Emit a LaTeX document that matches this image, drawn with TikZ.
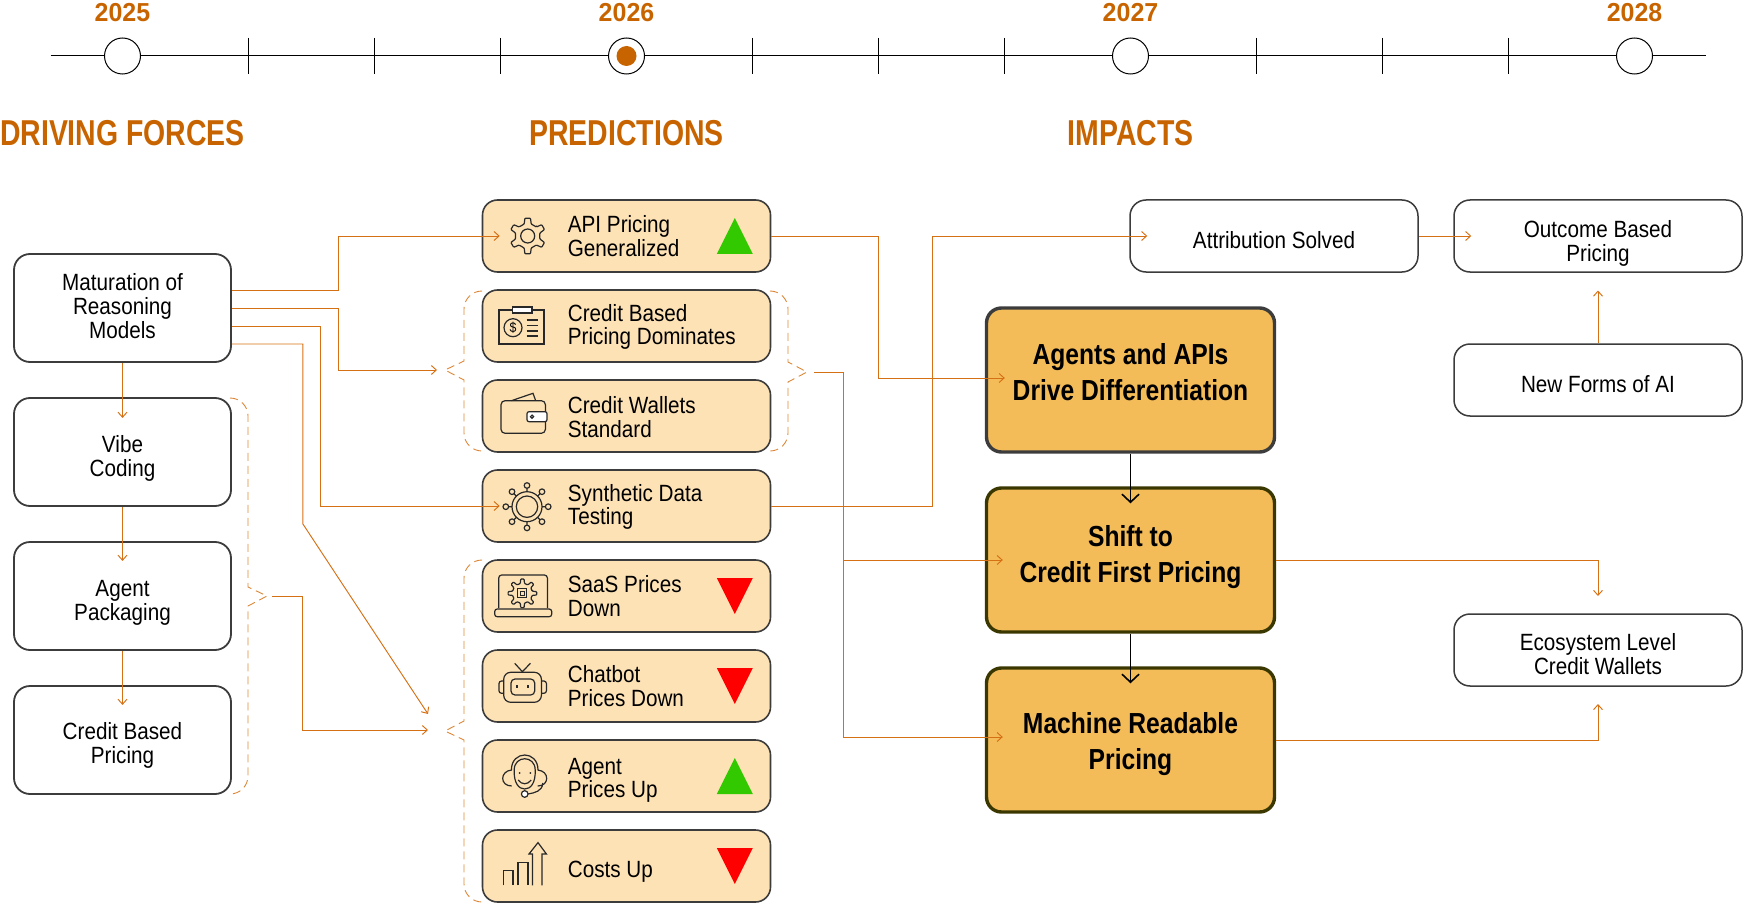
\documentclass[tikz,border=0pt]{standalone}
\usepackage{fontspec}
\setmainfont[FakeStretch=0.88]{Liberation Sans}
\newfontfamily\headfont[FakeStretch=0.79]{Liberation Sans}
\newfontfamily\yearfont[FakeStretch=0.96]{Liberation Sans}
\newfontfamily\impactfont[FakeStretch=0.85]{Liberation Sans}
\usetikzlibrary{arrows.meta}
\definecolor{ThemeOrange}{RGB}{200, 100, 0}
\definecolor{FlowOrange}{RGB}{214, 112, 20}
\definecolor{BraceOrange}{RGB}{220, 135, 55}
\definecolor{PredFill}{RGB}{253, 226, 182}
\definecolor{ImpactFill}{RGB}{243, 188, 89}
\definecolor{BoxEdge}{RGB}{60, 60, 60}
\definecolor{OliveEdge}{RGB}{58, 56, 0}
\definecolor{IconInk}{RGB}{40, 40, 40}
\definecolor{UpGreen}{RGB}{51, 201, 0}
\definecolor{DownRed}{RGB}{255, 0, 0}
\tikzset{
  forcebox/.style={draw=BoxEdge, line width=1.8pt, rounded corners=16pt, fill=white, minimum width=217pt, minimum height=108pt, inner sep=0pt},
  resultbox/.style={draw=BoxEdge, line width=1.5pt, rounded corners=16pt, fill=white, minimum height=72pt, inner sep=0pt},
  predbox/.style={draw=BoxEdge, line width=1.6pt, rounded corners=15pt, fill=PredFill, minimum width=288pt, minimum height=72pt, inner sep=0pt},
  impactbox/.style={draw=BoxEdge, line width=3.4pt, rounded corners=15pt, fill=ImpactFill, minimum width=288pt, minimum height=144pt, inner sep=0pt},
  boxtext/.style={align=center, font=\fontsize{23.5}{24}\selectfont, inner sep=0pt},
  predtext/.style={align=left, anchor=west, font=\fontsize{23.5}{23.5}\selectfont, inner sep=0pt},
  impacttext/.style={align=center, font=\fontsize{29}{36}\impactfont\bfseries, inner sep=0pt},
  header/.style={text=ThemeOrange, font=\fontsize{36}{36}\headfont\bfseries, inner sep=0pt},
  yearlabel/.style={text=ThemeOrange, font=\fontsize{26}{26}\yearfont\bfseries, inner sep=0pt},
  yeardot/.style={circle, draw=black, line width=1pt, fill=white, minimum size=36pt, inner sep=0pt},
  flow/.style={draw=FlowOrange, line width=0.95pt, -{Straight Barb[length=5pt,width=9pt]}},
  descend/.style={draw=black, line width=1.6pt, -{Straight Barb[length=8pt,width=17pt]}},
  bracedash/.style={draw=BraceOrange, line width=0.9pt, dash pattern=on 8pt off 5pt},
  iconline/.style={draw=IconInk, line width=1.2pt},
  pics/gearicon/.style={code={
    \draw[iconline, rounded corners=0.8pt] ({-.27*#1}:12.5) \foreach \a in {0,#1,...,359} {
      -- ({\a-.27*#1}:12.5) -- ({\a-.15*#1}:18) -- ({\a+.15*#1}:18) -- ({\a+.27*#1}:12.5)} -- cycle;
  }},
  pics/uptri/.style={code={\fill[UpGreen] (-18,18) -- (18,18) -- (0,-18) -- cycle;}},
  pics/downtri/.style={code={\fill[DownRed] (-18,-18) -- (18,-18) -- (0,18) -- cycle;}},
  pics/settingsicon/.style={code={
    \pic[rotate=30] {gearicon=60};
    \draw[iconline] (0,0) circle (7);
  }},
  pics/billicon/.style={code={
    \draw[iconline] (-28.7,-16) rectangle (16.3,18);
    \draw[iconline, fill=white] (-15.3,-19) rectangle (4.3,-13);
    \draw[iconline] (-14.7,1.7) circle (9);
    \node[font=\fontsize{14}{14}\selectfont, inner sep=0pt] (dollarmark) at (-14.7,1.7) {\$};
    \foreach \y in {-6,-0.5,5,10} {\draw[iconline] (-1,\y) -- (10.7,\y);}
  }},
  pics/walleticon/.style={code={
    \draw[iconline, rounded corners=4pt] (-26.7,-15.3) rectangle (17.7,17.3);
    \draw[iconline] (-16.3,-15.3) -- (5.3,-22.7) -- (8,-15.3);
    \draw[iconline, fill=white, rounded corners=2pt] (-0.7,-4.3) rectangle (19.3,5.7);
    \draw[iconline] (4.3,0.7) circle (1.6);
  }},
  pics/hubicon/.style={code={
    \draw[iconline] (0,0) circle (10.7) (0,0) circle (15);
    \foreach \a in {0,45,...,315} {
      \draw[iconline] (\a:15) -- (\a:18.4) (\a:21.2) circle (2.8);
    }
  }},
  pics/laptopicon/.style={code={
    \draw[iconline, rounded corners=3pt] (-29,12) -- (-29,-21) -- (19.7,-21) -- (19.7,12);
    \draw[iconline, rounded corners=2.5pt] (-33,13) -- (24,13) -- (24,20.7) -- (-33,20.7) -- cycle;
    \pic[scale=0.8] at (-5.3,-2.7) {gearicon=45};
    \draw[iconline, line width=1pt] (-9.8,-7.2) rectangle (-0.8,1.8) (-7.3,-4.7) rectangle (-3.3,-0.7);
  }},
  pics/boticon/.style={code={
    \draw[iconline, rounded corners=7pt] (-24,-13.7) rectangle (13.7,16.3);
    \draw[iconline, rounded corners=4pt] (-16.7,-7) rectangle (7,9);
    \draw[iconline] (-10.7,-0.7) -- (-10.7,2) (0.3,-0.7) -- (0.3,2);
    \draw[iconline, rounded corners=2.5pt] (-24,-5) -- (-28.7,-5) -- (-28.7,7.3) -- (-24,7.3);
    \draw[iconline, rounded corners=2.5pt] (13.7,-5) -- (18.7,-5) -- (18.7,7.3) -- (13.7,7.3);
    \draw[iconline] (-13,-22.7) -- (-5.3,-14.3) -- (2.7,-22.7);
  }},
  pics/headseticon/.style={code={
    \draw[iconline] (-13.3,-5) .. controls (-13.3,-25) and (13.3,-25) .. (13.3,-5);
    \draw[iconline] (-10.5,-5) .. controls (-10.5,-20) and (10.5,-20) .. (10.5,-5);
    \draw[iconline] (-13,-5) .. controls (-25,-4) and (-25,11) .. (-13,11);
    \draw[iconline] (13,-5) .. controls (25,-4) and (25,11) .. (13,11);
    \draw[iconline] (-10.5,-5) .. controls (-11,8) and (-6,14) .. (0,14) .. controls (6,14) and (11,8) .. (10.5,-5);
    \fill[IconInk] (-5,-2) circle (1) (5.7,-2) circle (1);
    \draw[iconline] (-6.5,5) .. controls (-3,10) and (3,10) .. (6.5,5);
    \draw[iconline] (18,8) .. controls (18,16) and (10,18) .. (3,19);
    \draw[iconline, fill=white] (0,19) circle (3.3);
  }},
  pics/costicon/.style={code={
    \draw[iconline] (-21,22) -- (-21,7) -- (-11.7,7) -- (-11.7,22);
    \draw[iconline] (-6.7,22) -- (-6.7,-1) -- (3.3,-1) -- (3.3,22);
    \draw[iconline] (7.7,22) -- (7.7,-9.3) -- (4.3,-9.3) -- (13.3,-20.7) -- (21.7,-9.3) -- (17.3,-9.3) -- (17.3,22);
  }},
}

\begin{document}
\begin{tikzpicture}[x=1pt, y=-1pt]
    \useasboundingbox (0,0) rectangle (1743,904);

    % Timeline
    \coordinate (linestart) at (50.5,56);
    \coordinate (lineend) at (1706,56);
    \draw[line width=1pt] (linestart) -- (lineend);
    \foreach \x in {248.5,374.5,500.5,752.5,878.5,1004.5,1256.5,1382.5,1508.5} {
      \draw[line width=1pt] (\x,38) -- (\x,74);
    }
    \node[yeardot] (y2025) at (122.5,56) {};
    \node[yeardot] (y2026) at (626.5,56) {};
    \node[yeardot] (y2027) at (1130.5,56) {};
    \node[yeardot] (y2028) at (1634.5,56) {};
    \node[circle, fill=ThemeOrange, minimum size=20pt, inner sep=0pt] (nowdot) at (y2026) {};
    \node[yearlabel] (l2025) at (122.5,13) {2025};
    \node[yearlabel] (l2026) at (626.5,13) {2026};
    \node[yearlabel] (l2027) at (1130.5,13) {2027};
    \node[yearlabel] (l2028) at (1634.5,13) {2028};

    % Column headers
    \node[header] (headforces) at (122.5,133) {DRIVING FORCES};
    \node[header] (headpred) at (626.5,133) {PREDICTIONS};
    \node[header] (headimpact) at (1130.5,133) {IMPACTS};

    % Driving forces
    \node[forcebox] (maturation) at (122.5,308) {};
    \node[forcebox] (vibe) at (122.5,452) {};
    \node[forcebox] (packaging) at (122.5,596) {};
    \node[forcebox] (creditforce) at (122.5,740) {};
    \node[boxtext] (maturationtext) at ([yshift=1.5]maturation.center) {Maturation of\\Reasoning\\Models};
    \node[boxtext] (vibetext) at ([yshift=-6]vibe.center) {Vibe\\Coding};
    \node[boxtext] (packagingtext) at ([yshift=-6.5]packaging.center) {Agent\\Packaging};
    \node[boxtext] (creditforcetext) at ([yshift=-5.5]creditforce.center) {Credit Based\\Pricing};

    % Predictions
    \node[predbox] (api) at (626.5,236) {};
    \node[predbox] (creditdom) at (626.5,326) {};
    \node[predbox] (wallets) at (626.5,416) {};
    \node[predbox] (synthetic) at (626.5,506) {};
    \node[predbox] (saas) at (626.5,596) {};
    \node[predbox] (chatbot) at (626.5,686) {};
    \node[predbox] (agentup) at (626.5,776) {};
    \node[predbox] (costs) at (626.5,866) {};
    \node[predtext] (apitext) at ([xshift=86]api.west) {API Pricing\\Generalized};
    \node[predtext] (creditdomtext) at ([xshift=86,yshift=-1]creditdom.west) {Credit Based\\Pricing Dominates};
    \node[predtext] (walletstext) at ([xshift=86,yshift=-1]wallets.west) {Credit Wallets\\Standard};
    \node[predtext] (synthetictext) at ([xshift=86,yshift=-1]synthetic.west) {Synthetic Data\\Testing};
    \node[predtext] (saastext) at ([xshift=86]saas.west) {SaaS Prices\\Down};
    \node[predtext] (chatbottext) at ([xshift=86]chatbot.west) {Chatbot\\Prices Down};
    \node[predtext] (agentuptext) at ([xshift=86,yshift=-4.5]agentup.west) {Agent\\Prices Up};
    \node[predtext] (coststext) at ([xshift=86,yshift=-6]costs.west) {Costs Up};

    % Icons
    \pic at ([xshift=46]api.west) {settingsicon};
    \pic at ([xshift=46]creditdom.west) {billicon};
    \pic at ([xshift=46]wallets.west) {walleticon};
    \pic at ([xshift=45.3,yshift=-0.7]synthetic.west) {hubicon};
    \pic at ([xshift=46]saas.west) {laptopicon};
    \pic at ([xshift=46]chatbot.west) {boticon};
    \pic at ([xshift=43,yshift=1]agentup.west) {headseticon};
    \pic at ([xshift=43,yshift=2.7]costs.west) {costicon};

    % Trend markers
    \pic at ([xshift=-36.5]api.east) {uptri};
    \pic at ([xshift=-36.5]saas.east) {downtri};
    \pic at ([xshift=-36.5]chatbot.east) {downtri};
    \pic at ([xshift=-36.5]agentup.east) {uptri};
    \pic at ([xshift=-36.5]costs.east) {downtri};

    % Impacts
    \node[impactbox] (agents) at (1130.5,380) {};
    \node[impactbox, draw=OliveEdge] (shift) at (1130.5,560) {};
    \node[impactbox, draw=OliveEdge] (machine) at (1130.5,740) {};
    \node[impacttext] (agentstext) at ([yshift=8]agents.center) {Agents and APIs\\Drive Differentiation};
    \node[impacttext] (shifttext) at ([yshift=3]shift.center) {Shift to\\Credit First Pricing};
    \node[impacttext] (machinetext) at ([yshift=-4]machine.center) {Machine Readable\\Pricing};

    % Results
    \node[resultbox, minimum width=288pt] (attribution) at (1274,236) {};
    \node[resultbox, minimum width=288pt] (outcome) at (1598,236) {};
    \node[resultbox, minimum width=288pt] (newforms) at (1598,380) {};
    \node[resultbox, minimum width=288pt] (ecosystem) at (1598,650) {};
    \node[boxtext] (attributiontext) at ([yshift=-4]attribution.center) {Attribution Solved};
    \node[boxtext] (outcometext) at ([yshift=-7]outcome.center) {Outcome Based\\Pricing};
    \node[boxtext] (newformstext) at ([yshift=-4]newforms.center) {New Forms of AI};
    \node[boxtext] (ecosystemtext) at ([yshift=-4]ecosystem.center) {Ecosystem Level\\Credit Wallets};

    % Arrow ends
    \coordinate (apiin) at ([xshift=18]api.west);
    \coordinate (syntheticin) at ([xshift=18]synthetic.west);
    \coordinate (creditgroupin) at (437,370);
    \coordinate (fanslant) at (428,714);
    \coordinate (fanflat) at (428,730);
    \coordinate (agentsin) at ([xshift=20,yshift=2]agents.west);
    \coordinate (shiftin) at ([xshift=18]shift.west);
    \coordinate (machinein) at ([xshift=18,yshift=3]machine.west);
    \coordinate (attributionin) at ([xshift=18]attribution.west);
    \coordinate (outcomein) at ([xshift=18]outcome.west);
    \coordinate (outcomeunder) at (1598,290.5);
    \coordinate (ecosystemover) at (1598,596);
    \coordinate (ecosystemunder) at (1598,704);
    \coordinate (creditgroupout) at (814,372.5);
    \coordinate (forcegroupout) at (272,596);
    \coordinate (shiftbranch) at (843,560);
    \coordinate (shiftcap) at ([yshift=-17]shift.north);
    \coordinate (machinecap) at ([yshift=-17]machine.north);

    % Force connectors
    \draw[flow] ([yshift=18]maturation.east) -- ++(107,0) |- (apiin);
    \draw[flow] (maturation.east) -- ++(107,0) |- (creditgroupin);
    \draw[flow] ([yshift=-18]maturation.east) -- ++(89,0) |- (syntheticin);
    \draw[flow] ([yshift=-36]maturation.east) -- ++(71,0) -- ++(0,180) -- (fanslant);
    \draw[flow] (forcegroupout) -- ++(30,0) |- (fanflat);
    \draw[flow] (maturation.south) -- ++(0,55);
    \draw[flow] (vibe.south) -- ++(0,54);
    \draw[flow] (packaging.south) -- ++(0,54);

    % Prediction connectors
    \draw[flow] (api.east) -- ++(107,0) |- (agentsin);
    \draw[flow] (synthetic.east) -- ++(161,0) |- (attributionin);
    \draw[flow] (creditgroupout) -- ++(29,0) |- (machinein);
    \draw[flow] (shiftbranch) -- (shiftin);

    % Impact and result connectors
    \draw[descend] (agents.south) -- (shiftcap);
    \draw[descend] (shift.south) -- (machinecap);
    \draw[flow] (attribution.east) -- (outcomein);
    \draw[flow] (newforms.north) -- (outcomeunder);
    \draw[flow] (shift.east) -| (ecosystemover);
    \draw[flow] (machine.east) -| (ecosystemunder);

    % Group braces
    \draw[bracedash] (230,398) [rounded corners=18pt] -- (248,398) [sharp corners] -- (248,587) -- (267,596) -- (248,606) [rounded corners=18pt] -- (248,794) [sharp corners] -- (230,794);
    \draw[bracedash] (482,291) [rounded corners=18pt] -- (464,291) [sharp corners] -- (464,361) -- (445,370) -- (464,380) [rounded corners=18pt] -- (464,451) [sharp corners] -- (482,451);
    \draw[bracedash] (770,291) [rounded corners=18pt] -- (788,291) [sharp corners] -- (788,362) -- (807,372) -- (788,382) [rounded corners=18pt] -- (788,451) [sharp corners] -- (770,451);
    \draw[bracedash] (482,560) [rounded corners=18pt] -- (464,560) [sharp corners] -- (464,721) -- (445,731) -- (464,740) [rounded corners=18pt] -- (464,902) [sharp corners] -- (482,902);
\end{tikzpicture}
\end{document}
